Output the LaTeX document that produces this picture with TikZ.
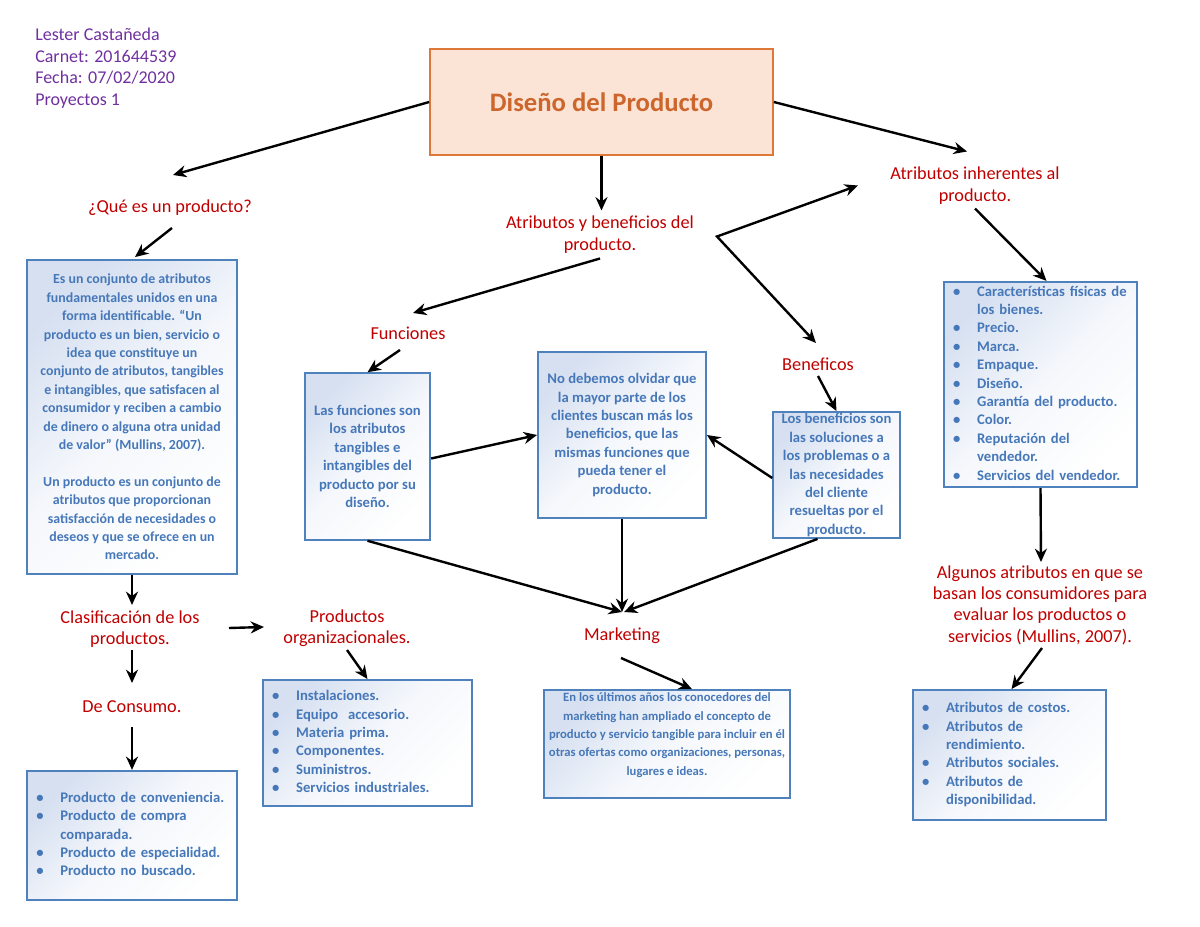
\documentclass[tikz,border=0pt]{standalone}
\usepackage{fontspec}
\setmainfont{Carlito}
\usetikzlibrary{arrows.meta,calc}

\definecolor{bline}{RGB}{79,129,189}
\definecolor{btext}{RGB}{70,120,185}
\definecolor{bfill}{RGB}{214,224,241}
\definecolor{tline}{RGB}{222,120,56}
\definecolor{tfill}{RGB}{251,228,213}
\definecolor{ttext}{RGB}{205,102,45}
\definecolor{lred}{RGB}{192,0,0}
\definecolor{hpurple}{RGB}{112,48,160}

\newcommand{\boxfont}{\fontsize{11}{13.8}\selectfont\bfseries}
\newcommand{\lblfont}{\fontsize{13.7}{16}\selectfont}
\newcommand{\bl}{\makebox[18pt][l]{\textbullet}}

\tikzset{
  arr/.style={line width=1.8pt, -{Stealth[length=10pt,width=9pt]}},
  arrboth/.style={line width=1.8pt, {Stealth[length=10pt,width=9pt]}-{Stealth[length=10pt,width=9pt]}},
  lbl/.style={text=lred, font=\lblfont, align=center, inner sep=0pt},
  title/.style={draw=tline, line width=1.5pt, fill=tfill, text=ttext, font=\fontsize{20}{24}\selectfont\bfseries, minimum width=257pt, minimum height=79.5pt},
  box/.style={draw=bline, line width=1.4pt, top color=white, bottom color=bfill, middle color=bfill!25!white, shading angle=-135, text=btext, font=\boxfont, align=center, inner sep=0pt},
  listbox/.style={box, align=left, inner xsep=7pt},
}

\begin{document}
\begin{tikzpicture}[x=0.75pt,y=-0.75pt]
\useasboundingbox (0,0) rectangle (1200,927);

% header
\node[anchor=north west, align=left, text=hpurple, font=\fontsize{13.5}{16.1}\selectfont, inner sep=0pt] (hdr) at (35,28) {Lester Castañeda\\Carnet: 201644539\\Fecha: 07/02/2020\\Proyectos 1};

% title
\node[title] (dis) at (601.5,102) {Diseño del Producto};

% red labels
\node[lbl] (que) at (170,208) {¿Qué es un producto?};
\node[lbl] (ayb) at (600,234.5) {Atributos y beneficios del\\producto.};
\node[lbl] (inh) at (975,185.5) {Atributos inherentes al\\producto.};
\node[lbl] (fun) at (408,333) {Funciones};
\node[lbl] (ben) at (818,364) {Beneficos};
\node[lbl] (cla) at (130,629) {Clasificación de los\\productos.};
\node[lbl] (org) at (347,628) {Productos\\organizacionales.};
\node[lbl] (con) at (132,707) {De Consumo.};
\node[lbl] (mkt) at (622,636) {Marketing};
\node[lbl] (alg) at (1040,605) {Algunos atributos en que se\\basan los consumidores para\\evaluar los productos o\\servicios (Mullins, 2007).};

% blue boxes
\node[box, font=\fontsize{10.4}{13.8}\selectfont\bfseries, minimum width=157.5pt, minimum height=235.5pt] (def) at (132,417) {Es un conjunto de atributos\\fundamentales unidos en una\\forma identificable. “Un\\producto es un bien, servicio o\\idea que constituye un\\conjunto de atributos, tangibles\\e intangibles, que satisfacen al\\consumidor y reciben a cambio\\de dinero o alguna otra unidad\\de valor” (Mullins, 2007).\\[13.8pt]Un producto es un conjunto de\\atributos que proporcionan\\satisfacción de necesidades o\\deseos y que se ofrece en un\\mercado.};
\node[box, minimum width=94pt, minimum height=125pt] (funbox) at (367.5,456.5) {Las funciones son\\los atributos\\tangibles e\\intangibles del\\producto por su\\diseño.};
\node[box, minimum width=126pt, minimum height=124.5pt] (midbox) at (622,435) {No debemos olvidar que\\la mayor parte de los\\clientes buscan más los\\beneficios, que las\\mismas funciones que\\pueda tener el\\producto.};
\node[box, minimum width=95pt, minimum height=94.5pt] (benbox) at (836.5,475) {Los beneficios son\\las soluciones a\\los problemas o a\\las necesidades\\del cliente\\resueltas por el\\producto.};
\node[listbox, text width=131pt, minimum height=154pt] (inhbox) at (1040.5,384.5) {\begin{tabular}{@{}l@{}l@{}}
\bl & Características físicas de\\ & los bienes.\\ \bl & Precio.\\ \bl & Marca.\\ \bl & Empaque.\\ \bl & Diseño.\\ \bl & Garantía del producto.\\ \bl & Color.\\ \bl & Reputación del\\ & vendedor.\\ \bl & Servicios del vendedor.
\end{tabular}};
\node[listbox, text width=143pt, minimum height=94.5pt] (orgbox) at (367.5,743) {\begin{tabular}{@{}l@{}l@{}}
\bl & Instalaciones.\\ \bl & Equipo\ \ accesorio.\\ \bl & Materia prima.\\ \bl & Componentes.\\ \bl & Suministros.\\ \bl & Servicios industriales.
\end{tabular}};
\node[listbox, text width=143.5pt, minimum height=97pt] (conbox) at (132,835.5) {\begin{tabular}{@{}l@{}l@{}}
\bl & Producto de conveniencia.\\ \bl & Producto de compra\\ & comparada.\\ \bl & Producto de especialidad.\\ \bl & Producto no buscado.
\end{tabular}};
\node[box, font=\fontsize{9.5}{13.8}\selectfont\bfseries, text depth=15pt, minimum width=184.5pt, minimum height=81pt] (mktbox) at (667,744) {En los últimos años los conocedores del\\marketing han ampliado el concepto de\\producto y servicio tangible para incluir en él\\otras ofertas como organizaciones, personas,\\lugares e ideas.};
\node[listbox, text width=131pt, minimum height=97.5pt] (costbox) at (1009.5,755) {\begin{tabular}{@{}l@{}l@{}}
\bl & Atributos de costos.\\ \bl & Atributos de\\ & rendimiento.\\ \bl & Atributos sociales.\\ \bl & Atributos de\\ & disponibilidad.
\end{tabular}};

% connectors
\draw[arr] (dis.west) -- ($(que)+(3,-33)$);
\draw[arr] (dis.south) -- ($(ayb)+(1.5,-24)$);
\draw[arr] (dis.east) -- ($(inh)+(-8,-34)$);
\draw[arr] ($(que)+(2,20)$) -- ($(def.north)+(3,-2)$);
\draw[arr] ($(ayb)+(0,24)$) -- ($(fun)+(5,-20)$);
\draw[arrboth] ($(inh)+(-117,0)$) -- ($(ayb)+(117,2)$) -- ($(ben)+(-2,-21)$);
\draw[arr] ($(inh)+(0,23)$) -- ($(inhbox.north)+(6,0)$);
\draw[arr] ($(fun)+(-8,17)$) -- (funbox.north);
\draw[arr] ($(ben)+(0,12)$) -- (benbox.north);
\draw[arr] ($(funbox.east)+(0,2)$) -- (midbox.west);
\draw[arr] ($(benbox.west)+(0,3)$) -- (midbox.east);
\draw[arr] (funbox.south) -- ($(mkt)+(0,-24)$);
\draw[arr] (midbox.south) -- ($(mkt)+(0,-24)$);
\draw[arr] ($(benbox.south)+(-19,0)$) -- ($(mkt)+(2,-24)$);
\draw[arr] ($(mkt)+(-1,22)$) -- ($(mktbox.north)+(25,0)$);
\draw[arr] (def.south) -- ($(cla)+(2,-24)$);
\draw[arr] ($(cla)+(99,-1)$) -- ($(org)+(-83,-1)$);
\draw[arr] ($(cla)+(2,21)$) -- ($(con)+(0,-24)$);
\draw[arr] ($(con)+(0,20)$) -- (conbox.north);
\draw[arr] ($(org)+(0,22)$) -- (orgbox.north);
\draw[arr] (inhbox.south) -- ($(alg)+(1,-43)$);
\draw[arr] ($(alg)+(2,43)$) -- ($(costbox.north)+(2,0)$);

\end{tikzpicture}
\end{document}
